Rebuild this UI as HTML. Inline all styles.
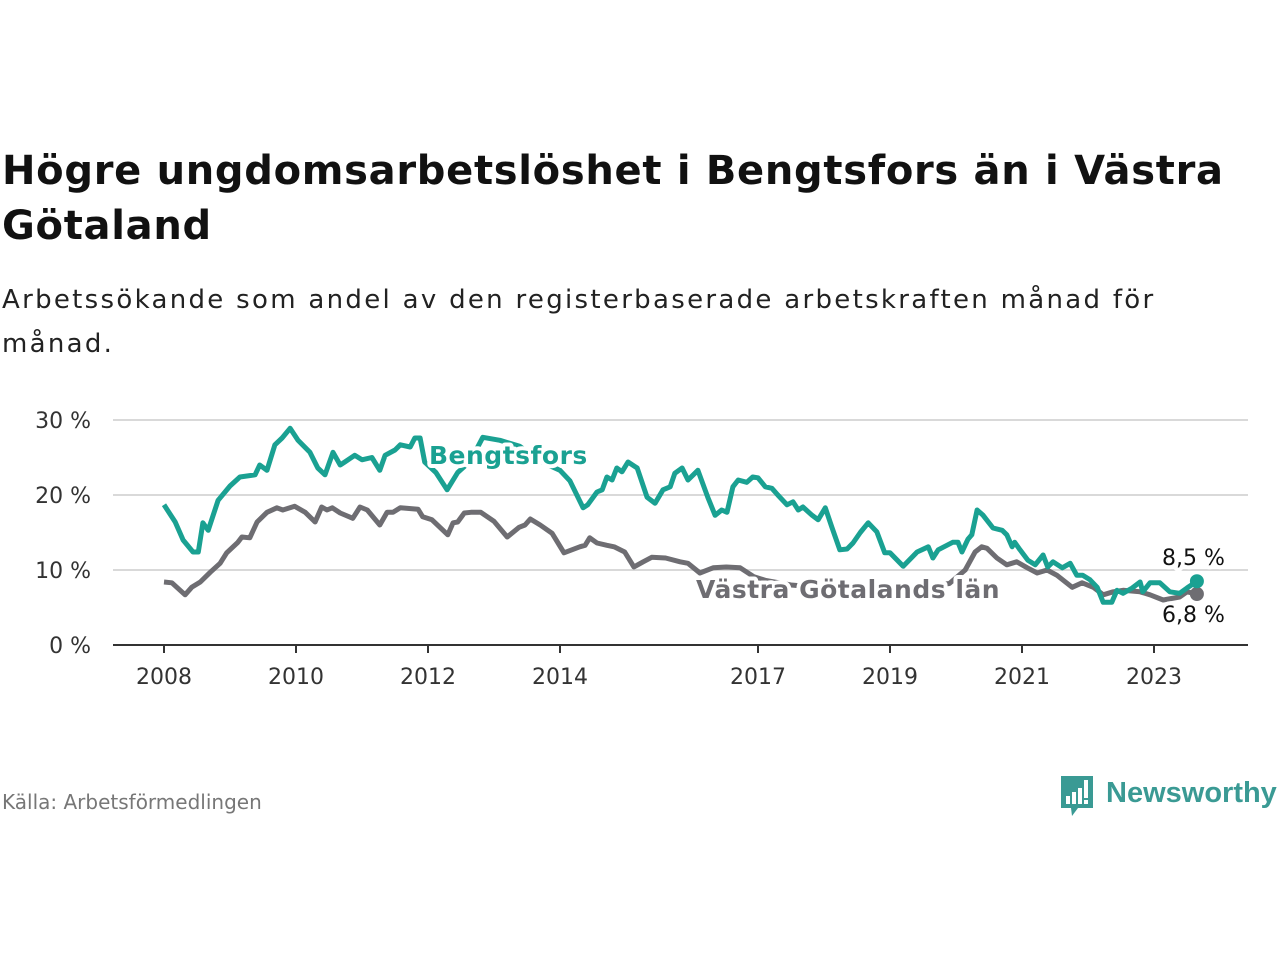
<!DOCTYPE html>
<html><head><meta charset="utf-8">
<style>
html,body{margin:0;padding:0;background:#fff;width:1280px;height:960px;overflow:hidden}
body{font-family:"DejaVu Sans","Liberation Sans",sans-serif;position:relative}
#title{position:absolute;left:2px;top:144px;font-size:40px;font-weight:bold;color:#111;line-height:55px;margin:0;width:1275px;letter-spacing:0.7px;font-family:"DejaVu Sans",sans-serif}
#sub{position:absolute;left:2px;top:278px;font-size:26px;color:#222;line-height:44px;margin:0;width:1200px;letter-spacing:2.3px;font-family:"DejaVu Sans",sans-serif}
#src{position:absolute;left:2px;top:790px;font-size:20px;color:#777;font-family:"DejaVu Sans",sans-serif}
#logo{position:absolute;left:1060px;top:774px}
svg text{font-family:"DejaVu Sans","Liberation Sans",sans-serif}
</style></head><body>
<h1 id="title">Högre ungdomsarbetslöshet i Bengtsfors än i Västra Götaland</h1>
<p id="sub">Arbetssökande som andel av den registerbaserade arbetskraften månad för månad.</p>
<svg id="chart" width="1280" height="960" style="position:absolute;left:0;top:0"></svg>
<div id="src">Källa: Arbetsförmedlingen</div>
<div id="logo">
<svg width="220" height="46">
<path d="M1 2 h32 v32 h-15 l-6 8 l-1 -8 h-10 z" fill="#3a9a94"/>
<rect x="6" y="22" width="4" height="8" fill="#fff"/><rect x="12" y="18" width="4" height="12" fill="#fff"/><rect x="18" y="14" width="4" height="16" fill="#fff"/><rect x="24" y="6" width="4" height="18" fill="#fff"/><rect x="24" y="26" width="4" height="4" fill="#fff"/>
<text x="46" y="28" font-size="29" font-weight="bold" fill="#3a9a94" style="font-family:'Liberation Sans',sans-serif">Newsworthy</text>
</svg></div>
<script>
const yTicks=[0,10,20,30];
const xTicks=[2008,2010,2012,2014,2017,2019,2021,2023];
const bDates=[2008.00,2008.17,2008.29,2008.44,2008.52,2008.59,2008.67,2008.82,2009.00,2009.15,
2009.38,2009.45,2009.56,2009.68,2009.79,2009.91,2010.03,2010.21,2010.33,2010.44,
2010.56,2010.67,2010.74,2010.89,2011.00,2011.15,2011.27,2011.35,2011.50,2011.58,
2011.73,2011.80,2011.88,2011.95,2012.12,2012.29,2012.45,2012.64,2012.83,2013.09,
2013.39,2013.70,2014.00,2014.15,2014.35,2014.42,2014.56,2014.64,2014.71,2014.79,
2014.86,2014.94,2015.03,2015.17,2015.32,2015.44,2015.56,2015.67,2015.74,2015.85,
2015.94,2016.09,2016.24,2016.35,2016.45,2016.53,2016.62,2016.70,2016.83,2016.92,
2017.00,2017.11,2017.21,2017.30,2017.44,2017.53,2017.61,2017.68,2017.82,2017.91,
2018.02,2018.12,2018.24,2018.35,2018.44,2018.55,2018.67,2018.80,2018.92,2019.00,
2019.20,2019.41,2019.58,2019.65,2019.73,2019.95,2020.03,2020.09,2020.18,2020.24,
2020.32,2020.41,2020.56,2020.70,2020.77,2020.85,2020.89,2020.97,2021.09,2021.20,
2021.32,2021.39,2021.47,2021.61,2021.73,2021.83,2021.92,2022.03,2022.14,2022.23,
2022.36,2022.44,2022.53,2022.67,2022.79,2022.83,2022.94,2023.09,2023.24,2023.39,
2023.50,2023.65];
const bVals=[18.7,16.4,14.0,12.4,12.4,16.3,15.3,19.3,21.2,22.4,
22.7,24.0,23.3,26.7,27.6,28.9,27.3,25.7,23.6,22.7,
25.7,24.0,24.4,25.3,24.7,25.0,23.3,25.3,26.0,26.7,
26.4,27.6,27.6,24.4,23.0,20.7,23.0,24.5,27.7,27.3,
26.5,24.5,23.3,21.9,18.3,18.7,20.4,20.7,22.4,22.0,
23.6,23.1,24.4,23.6,19.7,18.9,20.7,21.1,22.9,23.6,
22.0,23.3,19.7,17.3,18.0,17.7,21.1,22.0,21.7,22.4,
22.3,21.1,20.9,20.0,18.7,19.1,18.0,18.4,17.3,16.7,
18.3,15.7,12.7,12.8,13.6,15.0,16.3,15.1,12.3,12.3,
10.5,12.4,13.1,11.6,12.7,13.7,13.7,12.4,14.1,14.7,
18.0,17.3,15.6,15.3,14.7,13.1,13.7,12.7,11.3,10.7,
12.0,10.4,11.1,10.3,10.9,9.3,9.3,8.7,7.7,5.7,
5.7,7.3,6.9,7.6,8.4,7.1,8.3,8.3,7.1,6.9,
7.6,8.5];
const gDates=[2008.0,2008.12,2008.32,2008.42,2008.55,2008.7,2008.85,2008.95,2009.12,2009.18,
2009.3,2009.41,2009.56,2009.71,2009.8,2009.98,2010.14,2010.29,2010.39,2010.47,
2010.55,2010.67,2010.86,2010.97,2011.08,2011.27,2011.38,2011.47,2011.58,2011.85,
2011.92,2012.06,2012.18,2012.3,2012.38,2012.45,2012.55,2012.65,2012.8,2012.9,
2013.0,2013.2,2013.38,2013.47,2013.55,2013.7,2013.88,2014.06,2014.3,2014.38,
2014.45,2014.56,2014.71,2014.82,2014.98,2015.12,2015.26,2015.39,2015.6,2015.82,
2015.94,2016.12,2016.32,2016.52,2016.73,2016.94,2017.12,2017.5,2017.9,2018.3,
2018.7,2019.1,2019.5,2019.9,2020.14,2020.29,2020.39,2020.47,2020.62,2020.77,
2020.92,2021.08,2021.23,2021.38,2021.53,2021.76,2021.91,2022.08,2022.23,2022.38,
2022.53,2022.79,2022.94,2023.14,2023.39,2023.5,2023.65];
const gVals=[8.4,8.3,6.7,7.7,8.4,9.7,10.9,12.3,13.7,14.4,
14.3,16.4,17.7,18.3,18.0,18.5,17.7,16.4,18.4,18.0,
18.3,17.6,16.9,18.4,18.0,16.0,17.7,17.7,18.3,18.1,
17.1,16.7,15.7,14.7,16.3,16.4,17.6,17.7,17.7,17.1,
16.5,14.4,15.7,16.0,16.8,16.0,14.9,12.3,13.1,13.3,
14.3,13.6,13.3,13.1,12.4,10.4,11.1,11.7,11.6,11.1,
10.9,9.6,10.3,10.4,10.3,9.1,8.6,8.0,7.7,7.6,
7.6,7.6,7.8,8.2,10.0,12.4,13.1,12.9,11.6,10.7,
11.1,10.3,9.6,10.0,9.3,7.7,8.3,7.7,6.7,7.1,
7.3,7.1,6.7,6.0,6.4,7.1,6.8];
const NS='http://www.w3.org/2000/svg';
const svg=document.getElementById('chart');
const X0=113,X1=1248;
function xs(y){return 164+(y-2008)*66;}
function ys(v){return 645-v*7.5;}
function mk(t,a,p){const e=document.createElementNS(NS,t);for(const k in a)e.setAttribute(k,a[k]);(p||svg).appendChild(e);return e;}
yTicks.forEach(t=>{
  if(t>0){const g=mk('line',{x1:X0,x2:X1,y1:ys(t),y2:ys(t),stroke:'#d9d9d9','stroke-width':2});
  
  }
  const l=mk('text',{x:91,y:ys(t)+8,'text-anchor':'end','font-size':22,fill:'#333'});
  l.textContent=t+' %';
  
  
});
const ax=mk('line',{x1:X0,x2:X1,y1:645,y2:645,stroke:'#333','stroke-width':2});


xTicks.forEach(t=>{
  const tk=mk('line',{x1:xs(t),x2:xs(t),y1:645,y2:653,stroke:'#333','stroke-width':2});
  
  
  const l=mk('text',{x:xs(t),y:684,'text-anchor':'middle','font-size':22,fill:'#333'});
  l.textContent=t;
  
  
});
function line(d,v,c,name){
  const p=mk('path',{d:d.map((t,i)=>(i?'L':'M')+xs(t).toFixed(1)+' '+ys(v[i]).toFixed(1)).join(''),fill:'none',stroke:c,'stroke-width':5,'stroke-linejoin':'round'});
  
  
  const n=Math.min(d.length,v.length)-1;
  const c2=mk('circle',{cx:xs(d[n]),cy:ys(v[n]),r:7,fill:c});
  
  
}
const TEAL='#1aa192',GRAY='#6e6d72';
line(gDates,gVals,GRAY,'vastra-gotaland-line');
line(bDates,bVals,TEAL,'bengtsfors-line');
function lab(x,y,s,c,txt,w,ls,name){
  const t=mk('text',{x:x,y:y,'font-size':s,'font-weight':w,fill:c,stroke:'#fff','stroke-width':8,'paint-order':'stroke','stroke-linejoin':'round','letter-spacing':ls});
  t.textContent=txt;
  
  
}
lab(429,464,25,TEAL,'Bengtsfors','bold',0.5,'bengtsfors-label');
lab(696,598,25,GRAY,'Västra Götalands län','bold',0.5,'vastra-gotaland-label');
lab(1162,565,22,'#111','8,5 %','normal',0,'bengtsfors-end-value');
lab(1162,622,22,'#111','6,8 %','normal',0,'vastra-gotaland-end-value');
</script>
</body></html>
